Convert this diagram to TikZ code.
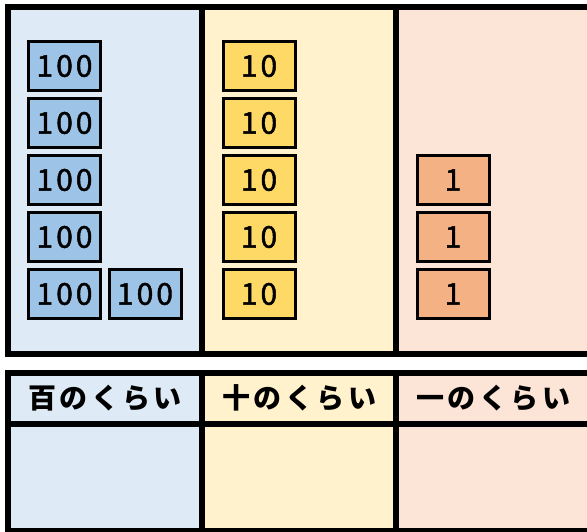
\documentclass[tikz,border=0pt]{standalone}
\usepackage{fontspec}
\newfontfamily\jpfont{Noto Sans CJK JP}
\newfontfamily\digitfont{Noto Sans CJK JP}[FakeBold=1.5]
\definecolor{bgblue}{HTML}{DEEBF7}
\definecolor{bgyellow}{HTML}{FFF2CC}
\definecolor{bgpeach}{HTML}{FCE4D6}
\definecolor{tileblue}{HTML}{9DC3E6}
\definecolor{tileyellow}{HTML}{FFD966}
\definecolor{tilepeach}{HTML}{F4B183}
\newcommand\tk{\kern3pt}
\newcommand\hk{\kern3.5pt}
\tikzset{
  tile/.style={draw=black, line width=3pt, minimum width=72pt, minimum height=49pt,
    inner sep=0pt, font=\digitfont\fontsize{30pt}{30pt}\selectfont},
  hundred/.style={tile, fill=tileblue},
  ten/.style={tile, fill=tileyellow},
  one/.style={tile, fill=tilepeach},
  frame/.style={line width=6pt, draw=black},
  head/.style={font=\jpfont\bfseries\fontsize{28pt}{28pt}\selectfont, inner sep=0pt}
}
\begin{document}
\begin{tikzpicture}[x=1pt,y=-1pt]
\useasboundingbox (0,0) rectangle (587,532);
\clip (0,0) rectangle (587,532);
% top panels
\fill[bgblue] (8,7) rectangle (202,354);
\fill[bgyellow] (202,7) rectangle (396,354);
\fill[bgpeach] (396,7) rectangle (600,354);
\draw[frame] (600,7) -- (8,7) -- (8,354) -- (600,354);
\draw[frame] (202,7) -- (202,354);
\draw[frame] (396,7) -- (396,354);
% bottom table
\fill[bgblue] (8,373) rectangle (202,531);
\fill[bgyellow] (202,373) rectangle (396,531);
\fill[bgpeach] (396,373) rectangle (600,531);
\draw[frame] (600,373) -- (8,373) -- (8,531) -- (600,531);
\draw[frame] (8,424) -- (600,424);
\draw[frame] (202,373) -- (202,531);
\draw[frame] (396,373) -- (396,531);
% headers
\node[head] (h100) at (105,398) {百\hk の\hk く\hk ら\hk い};
\node[head] (h10) at (299,398) {十\hk の\hk く\hk ら\hk い};
\node[head] (h1) at (493,398) {一\hk の\hk く\hk ら\hk い};
% hundreds
\node[hundred] (a1) at (64.5,66) {1\tk 0\tk 0};
\node[hundred] (a2) at (64.5,123) {1\tk 0\tk 0};
\node[hundred] (a3) at (64.5,180) {1\tk 0\tk 0};
\node[hundred] (a4) at (64.5,237) {1\tk 0\tk 0};
\node[hundred] (a5) at (64.5,294) {1\tk 0\tk 0};
\node[hundred] (a6) at (145,294) {1\tk 0\tk 0};
% tens
\node[ten] (b1) at (259,66) {1\tk 0};
\node[ten] (b2) at (259,123) {1\tk 0};
\node[ten] (b3) at (259,180) {1\tk 0};
\node[ten] (b4) at (259,237) {1\tk 0};
\node[ten] (b5) at (259,294) {1\tk 0};
% ones
\node[one] (c1) at (453,180) {1};
\node[one] (c2) at (453,237) {1};
\node[one] (c3) at (453,294) {1};
\end{tikzpicture}
\end{document}
